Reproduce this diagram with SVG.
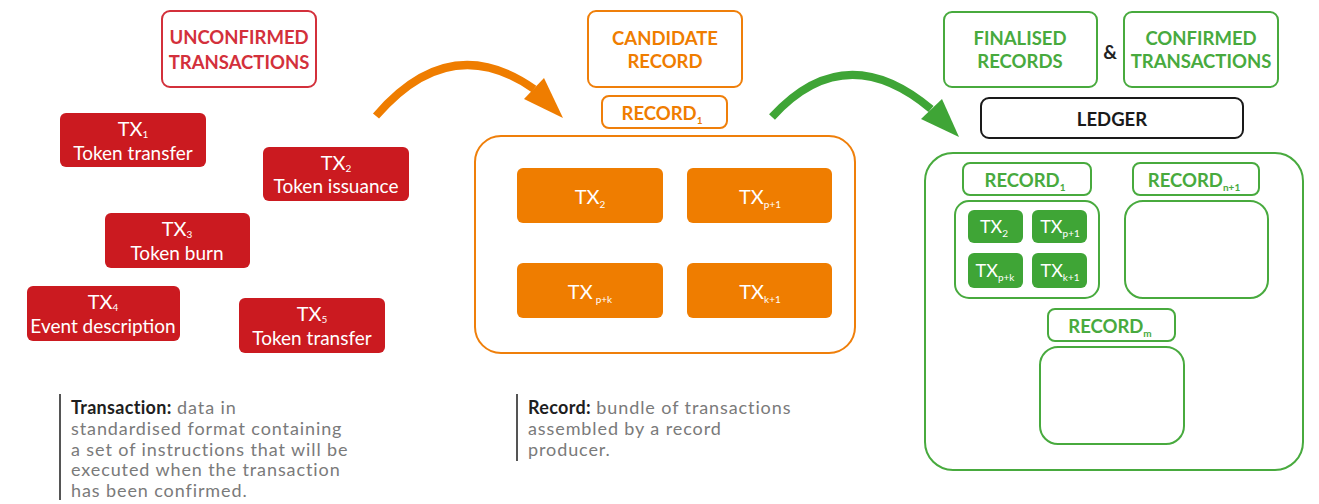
<svg xmlns="http://www.w3.org/2000/svg" width="1319" height="504" viewBox="0 0 1319 504">
<style>
text{font-family:Lato,"Open Sans","Liberation Sans",sans-serif}
.hdr{font-weight:bold;font-size:18.5px;text-anchor:middle}
.red{fill:none;stroke:#d3303b;stroke-width:2}
.redf{fill:#cb1a20}
.org{fill:none;stroke:#ef7f0a;stroke-width:2}
.orgf{fill:#ef7d00}
.grn{fill:none;stroke:#48aa3e;stroke-width:2}
.grnf{fill:#3fa536}
.wt{fill:#fff;text-anchor:middle}
.tx{font-size:20px}
.lbl{font-size:19px}
.sub{font-size:10px}
.desc{font-size:18px;fill:#7a7a7a;letter-spacing:0.9px}
.descb{font-weight:bold;fill:#1e1e1e;letter-spacing:0.3px}
</style>
<g id="unconfirmed-title">
<rect class="red" x="162" y="11" width="154" height="76" rx="8"/>
<text class="hdr" x="239" y="44" fill="#d3303b">UNCONFIRMED</text>
<text class="hdr" x="239" y="69" fill="#d3303b">TRANSACTIONS</text>
</g>
<g id="tx1">
<rect class="redf" x="60" y="113" width="146" height="54" rx="6"/>
<text class="wt tx" x="133" y="136">TX<tspan class="sub" dy="2">1</tspan></text>
<text class="wt lbl" x="133" y="160">Token transfer</text>
</g>
<g id="tx2">
<rect class="redf" x="263" y="147" width="146" height="54" rx="6"/>
<text class="wt tx" x="336" y="170">TX<tspan class="sub" dy="2">2</tspan></text>
<text class="wt lbl" x="336" y="193">Token issuance</text>
</g>
<g id="tx3">
<rect class="redf" x="105" y="213" width="145" height="55" rx="6"/>
<text class="wt tx" x="177" y="236">TX<tspan class="sub" dy="2">3</tspan></text>
<text class="wt lbl" x="177" y="260">Token burn</text>
</g>
<g id="tx4">
<rect class="redf" x="27" y="286" width="153" height="55" rx="6"/>
<text class="wt tx" x="103" y="309">TX<tspan class="sub" dy="2">4</tspan></text>
<text class="wt lbl" x="103" y="333">Event description</text>
</g>
<g id="tx5">
<rect class="redf" x="239" y="298" width="146" height="55" rx="6"/>
<text class="wt tx" x="312" y="321">TX<tspan class="sub" dy="2">5</tspan></text>
<text class="wt lbl" x="312" y="345">Token transfer</text>
</g>
<g id="transaction-note">
<rect x="59" y="394" width="2" height="106" fill="#555"/>
<text class="desc" x="71" y="414"><tspan class="descb">Transaction:</tspan> data in</text>
<text class="desc" x="71" y="435">standardised format containing</text>
<text class="desc" x="71" y="456">a set of instructions that will be</text>
<text class="desc" x="71" y="476">executed when the transaction</text>
<text class="desc" x="71" y="497">has been confirmed.</text>
</g>
<g id="candidate-title">
<rect class="org" x="588" y="11" width="154" height="76" rx="8"/>
<text class="hdr" x="665" y="45" fill="#ef7d00">CANDIDATE</text>
<text class="hdr" x="665" y="68" fill="#ef7d00">RECORD</text>
</g>
<g id="candidate-record">
<rect class="org" x="602" y="96" width="125" height="32" rx="7"/>
<text class="hdr" x="662" y="120" fill="#ef7d00">RECORD<tspan class="sub" dy="4">1</tspan></text>
<rect class="org" x="475" y="136" width="380" height="217" rx="26"/>
<rect class="orgf" x="517" y="168" width="146" height="55" rx="6"/>
<text class="wt tx" x="590" y="204">TX<tspan class="sub" dy="4">2</tspan></text>
<rect class="orgf" x="687" y="168" width="145" height="55" rx="6"/>
<text class="wt tx" x="760" y="204">TX<tspan class="sub" dy="4">p+1</tspan></text>
<rect class="orgf" x="517" y="263" width="146" height="55" rx="6"/>
<text class="wt tx" x="590" y="299">TX<tspan class="sub" dy="4" dx="3">p+k</tspan></text>
<rect class="orgf" x="687" y="263" width="145" height="55" rx="6"/>
<text class="wt tx" x="760" y="299">TX<tspan class="sub" dy="4">k+1</tspan></text>
</g>
<g id="record-note">
<rect x="516" y="394" width="2" height="67" fill="#555"/>
<text class="desc" x="528" y="414"><tspan class="descb">Record:</tspan> bundle of transactions</text>
<text class="desc" x="528" y="435">assembled by a record</text>
<text class="desc" x="528" y="456">producer.</text>
</g>
<g id="final-title">
<rect class="grn" x="944" y="12" width="153" height="75" rx="8"/>
<text class="hdr" x="1020" y="45" fill="#48aa3e">FINALISED</text>
<text class="hdr" x="1020" y="68" fill="#48aa3e">RECORDS</text>
<text x="1110" y="59" font-weight="bold" font-size="19" fill="#222" text-anchor="middle">&amp;</text>
<rect class="grn" x="1124" y="12" width="154" height="75" rx="8"/>
<text class="hdr" x="1201" y="45" fill="#48aa3e">CONFIRMED</text>
<text class="hdr" x="1201" y="68" fill="#48aa3e">TRANSACTIONS</text>
</g>
<g id="ledger-title">
<rect x="981" y="98" width="262" height="40" rx="8" fill="none" stroke="#1a1a1a" stroke-width="2"/>
<text x="1112" y="126" font-weight="bold" font-size="18.5" fill="#1a1a1a" text-anchor="middle">LEDGER</text>
</g>
<g id="ledger">
<rect class="grn" x="925" y="153" width="378" height="317" rx="28"/>
<rect class="grn" x="963" y="163" width="128" height="32" rx="7"/>
<text class="hdr" x="1025" y="187" fill="#48aa3e">RECORD<tspan class="sub" dy="4">1</tspan></text>
<rect class="grn" x="1133" y="163" width="126" height="32" rx="7"/>
<text class="hdr" x="1194" y="187" fill="#48aa3e">RECORD<tspan class="sub" dy="4">n+1</tspan></text>
<rect class="grn" x="955" y="201" width="144" height="97" rx="14"/>
<rect class="grnf" x="968" y="210" width="55" height="33" rx="6"/>
<text class="wt" x="994" y="233" font-size="18">TX<tspan class="sub" dy="4">2</tspan></text>
<rect class="grnf" x="1032" y="210" width="55" height="33" rx="6"/>
<text class="wt" x="1060" y="233" font-size="18">TX<tspan class="sub" dy="4">p+1</tspan></text>
<rect class="grnf" x="968" y="253" width="55" height="35" rx="6"/>
<text class="wt" x="995" y="277" font-size="18">TX<tspan class="sub" dy="4">p+k</tspan></text>
<rect class="grnf" x="1032" y="253" width="55" height="35" rx="6"/>
<text class="wt" x="1060" y="277" font-size="18">TX<tspan class="sub" dy="4">k+1</tspan></text>
<rect class="grn" x="1125" y="201" width="143" height="97" rx="18"/>
<rect class="grn" x="1048" y="309" width="127" height="32" rx="7"/>
<text class="hdr" x="1110" y="333" fill="#48aa3e">RECORD<tspan class="sub" dy="4">m</tspan></text>
<rect class="grn" x="1040" y="347" width="144" height="97" rx="18"/>
</g>
<g id="connectors">
<path d="M376,116 Q450,30 534,89" fill="none" stroke="#ef7d00" stroke-width="8"/>
<polygon points="524,99 544,78 563,118" fill="#ef7d00"/>
<path d="M772,117 Q845,37 931,109" fill="none" stroke="#3fa536" stroke-width="8"/>
<polygon points="921,119 942,99 959,137" fill="#3fa536"/>
</g>
</svg>
